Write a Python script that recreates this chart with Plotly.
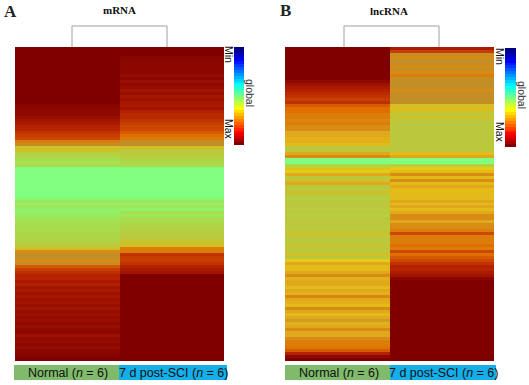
import plotly.graph_objects as go

W, H = 529, 385
groups = ["Normal", "7 d post-SCI"]
panel_titles = ["mRNA", "lncRNA"]
panel_letters = ["A", "B"]

mrna_normal = [
 1,1,1,1,1,1,1,1,1,1,1,1,1,1,1,
 1,1,1,1,.98,.97,.96,.96,.94,.92,.9,.88,.87,.84,.82,
 .8,.74,.7,.62,.62,.58,.56,.55,.54,.55,.5,.5,.5,.5,.5,
 .5,.5,.5,.5,.5,.51,.53,.52,.53,.52,.52,.53,.53,.54,.55,
 .55,.55,.56,.56,.57,.58,.6,.62,.72,.7,.7,.72,.7,.78,.82,
 .85,.88,.87,.9,.88,.92,.9,.93,.91,.93,.92,.94,.92,.95,.93,
 .95,.94,.96,.94,.96,.97,.93,.96,.95,.97,.95,.97,.98,.99,1]
mrna_sci = [
 1,1,1,.98,.98,.97,.97,.97,.97,.95,.97,.94,.96,.95,.92,
 .94,.91,.93,.91,.9,.92,.88,.86,.86,.84,.82,.8,.8,.78,.76,
 .74,.7,.7,.62,.6,.6,.58,.57,.56,.55,.5,.5,.5,.5,.5,
 .5,.5,.5,.5,.5,.51,.53,.52,.53,.52,.54,.53,.55,.55,.56,
 .57,.58,.58,.6,.6,.62,.62,.74,.74,.84,.82,.82,.84,.88,.9,
 .92,1,1,1,1,1,1,1,1,1,1,1,1,1,1,
 1,1,1,1,1,1,1,1,1,1,1,1,1,1,1]
lnc_normal = [
 1,1,1,1,1,1,1,1,1,1,1,.96,.93,.9,.88,
 .86,.84,.82,.85,.78,.76,.76,.74,.74,.73,.74,.72,.72,.68,.68,
 .67,.67,.66,.6,.6,.68,.72,.5,.5,.56,.63,.64,.68,.6,.62,
 .68,.6,.6,.62,.6,.58,.6,.6,.6,.59,.6,.58,.6,.6,.6,
 .59,.6,.62,.6,.6,.6,.61,.6,.6,.62,.6,.64,.68,.66,.66,
 .68,.72,.67,.68,.68,.66,.68,.67,.73,.68,.67,.66,.72,.68,.66,
 .68,.69,.67,.68,.72,.68,.68,.72,.74,.74,.75,.78,.88,.96,1]
lnc_sci = [
 .9,.82,.7,.72,.7,.7,.72,.7,.72,.74,.7,.7,.7,.7,.72,
 .7,.7,.7,.7,.62,.66,.62,.6,.62,.6,.6,.6,.6,.6,.6,
 .6,.6,.6,.6,.6,.66,.68,.5,.5,.58,.64,.66,.72,.66,.72,
 .66,.68,.66,.66,.66,.66,.68,.66,.68,.66,.68,.72,.72,.68,.72,
 .72,.74,.8,.74,.74,.74,.76,.74,.8,.76,.78,.8,.84,.88,.87,
 .9,.92,.98,1,1,1,1,1,1,1,1,1,1,1,1,
 1,1,1,1,1,1,1,1,1,1,1,1,1,1,1]
legend_levels = [0,.03,.06,.09,.12,.15,.18,.21,.24,.27,.3,.33,.36,.39,.42,.45,.48,
                 .51,.54,.57,.6,.63,.66,.69,.72,.75,.78,.81,.84,.87,.9,.93,.96,1]

heat_scale = [[0,"#000080"],[.5,"#80ff80"],[.54,"#a4e050"],[.58,"#b4d040"],[.6,"#bcc83c"],
              [.62,"#d0c028"],[.64,"#e6cc14"],[.68,"#e0a81c"],[.7,"#c48e26"],[.72,"#d88c14"],[.76,"#e06e00"],
              [.8,"#cc4800"],[.88,"#b42000"],[.94,"#980e00"],[1,"#800000"]]
jet_scale = [[0,"#000080"],[.125,"#0000ff"],[.375,"#00ffff"],[.5,"#80ff80"],
             [.625,"#ffff00"],[.875,"#ff0000"],[1,"#800000"]]

def fx(x): return x / W
def fy(y): return 1 - y / H

fig = go.Figure()
panels = [
    dict(l=15, r=224, a=mrna_normal, b=mrna_sci, cl=234, cr=244, ct=47, cb=145,
         den=(72, 167), bar=(14, 119, 227), minx=229, gx=250, letter=2, tcx=119, ty=10, letty=11, maxy=129, gy=93, miny=54),
    dict(l=285, r=494, a=lnc_normal, b=lnc_sci, cl=505, cr=516, ct=48, cb=147,
         den=(344, 439), bar=(285, 390, 496), minx=500, gx=522, letter=278, tcx=389, ty=11, letty=10, maxy=132, gy=95, miny=56),
]
shapes, anns = [], []
for i, p in enumerate(panels):
    n = 2 * i + 1
    ax_x, ax_y = ("x" if n == 1 else f"x{n}"), ("y" if n == 1 else f"y{n}")
    fig.add_trace(go.Heatmap(z=[[a, b] for a, b in zip(p["a"], p["b"])], x=groups,
                             colorscale=heat_scale, zmin=0, zmax=1, showscale=False,
                             xaxis=ax_x, yaxis=ax_y))
    fig.layout[f"xaxis{'' if n == 1 else n}"] = dict(domain=[fx(p["l"]), fx(p["r"])], visible=False, anchor=ax_y)
    fig.layout[f"yaxis{'' if n == 1 else n}"] = dict(domain=[fy(361), fy(47)], visible=False, anchor=ax_x, autorange="reversed")
    m = n + 1
    fig.add_trace(go.Heatmap(z=[[v] for v in legend_levels], colorscale=jet_scale, zmin=0, zmax=1,
                             showscale=False, xaxis=f"x{m}", yaxis=f"y{m}"))
    fig.layout[f"xaxis{m}"] = dict(domain=[fx(p["cl"]), fx(p["cr"])], visible=False, anchor=f"y{m}")
    fig.layout[f"yaxis{m}"] = dict(domain=[fy(p["cb"]), fy(p["ct"])], visible=False, anchor=f"x{m}", autorange="reversed")

    x0, x1 = p["den"]
    shapes.append(dict(type="path", xref="paper", yref="paper",
                       path=f"M {fx(x0)} {fy(47)} L {fx(x0)} {fy(26)} L {fx(x1)} {fy(26)} L {fx(x1)} {fy(47)}",
                       line=dict(color="#a0a0a0", width=1)))
    b0, b1, b2 = p["bar"]
    shapes.append(dict(type="rect", xref="paper", yref="paper", x0=fx(b0), x1=fx(b1), y0=fy(380), y1=fy(365),
                       fillcolor="#7fbb6a", line_width=0, layer="below"))
    shapes.append(dict(type="rect", xref="paper", yref="paper", x0=fx(b1), x1=fx(b2), y0=fy(380), y1=fy(365),
                       fillcolor="#14aee8", line_width=0, layer="below"))
    def txt(x, y, s, size, fam="Liberation Sans", ang=0, color="#111111", xa="center"):
        anns.append(dict(x=fx(x), y=fy(y), xref="paper", yref="paper", text=s, showarrow=False, textangle=ang,
                         font=dict(family=fam, size=size, color=color), xanchor=xa, yanchor="middle"))
    txt(p["letter"], p["letty"], f"<b>{panel_letters[i]}</b>", 17, "Liberation Serif", xa="left", color="#222222")
    txt(p["tcx"], p["ty"], f"<b>{panel_titles[i]}</b>", 11, "Liberation Serif")
    txt(p["minx"], p["miny"], "Min", 10.5, ang=90)
    txt(p["minx"], p["maxy"], "Max", 10.5, ang=90)
    txt(p["gx"], p["gy"], "global", 10.5, ang=90, color="#333333")
    txt((b0 + b1) / 2 + 1, 372.5, "Normal (<i>n</i> = 6)", 12.5)
    txt((b1 + b2) / 2, 372.5, "7 d post-SCI (<i>n</i> = 6)", 12.5)

fig.update_layout(width=W, height=H, autosize=False, margin=dict(l=0, r=0, t=0, b=0),
                  paper_bgcolor="white", plot_bgcolor="white", shapes=shapes, annotations=anns)
fig.write_html("out.html", config=dict(displayModeBar=False),
               post_script="document.body.style.margin='0';document.body.style.overflow='hidden';")
